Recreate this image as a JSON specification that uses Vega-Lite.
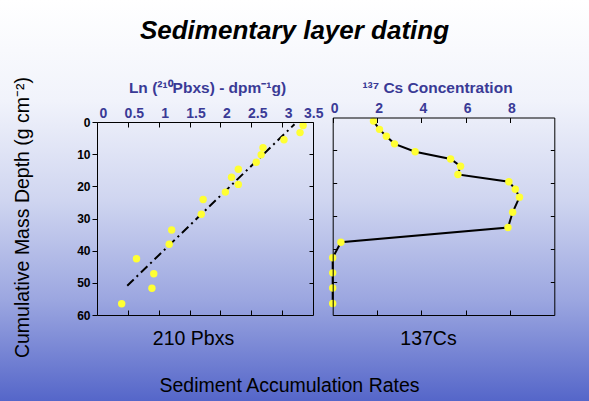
{
  "$schema": "https://vega.github.io/schema/vega-lite/v6.json",
  "width": 589,
  "height": 401,
  "autosize": "none",
  "padding": 0,
  "title": {
    "text": "Sedimentary layer dating",
    "font": "Liberation Sans",
    "fontSize": 26,
    "fontWeight": "bold",
    "fontStyle": "italic",
    "color": "#000000",
    "anchor": "middle",
    "frame": "group",
    "offset": -44
  },
  "config": {
    "font": "Liberation Sans",
    "view": {"stroke": null},
    "axis": {"grid": false, "domainColor": "#000000", "tickColor": "#000000", "domainWidth": 1, "tickWidth": 1}
  },
  "datasets": {
    "pb": [
      {"ln": 3.34, "depth": 1.1},
      {"ln": 3.29, "depth": 3.3},
      {"ln": 3.03, "depth": 5.5},
      {"ln": 2.69, "depth": 8.0},
      {"ln": 2.66, "depth": 10.2},
      {"ln": 2.58, "depth": 12.5},
      {"ln": 2.29, "depth": 14.7},
      {"ln": 2.18, "depth": 17.2},
      {"ln": 2.29, "depth": 19.4},
      {"ln": 2.08, "depth": 21.8},
      {"ln": 1.72, "depth": 24.1},
      {"ln": 1.69, "depth": 28.7},
      {"ln": 1.21, "depth": 33.6},
      {"ln": 1.17, "depth": 38.0},
      {"ln": 0.64, "depth": 42.5},
      {"ln": 0.92, "depth": 47.2},
      {"ln": 0.89, "depth": 51.7},
      {"ln": 0.40, "depth": 56.5}
    ],
    "pbfit": [
      {"ln": 0.49, "depth": 50.9},
      {"ln": 3.20, "depth": 0.7}
    ],
    "cs": [
      {"conc": 1.84, "depth": 1.1},
      {"conc": 2.11, "depth": 3.6},
      {"conc": 2.42, "depth": 5.7},
      {"conc": 2.79, "depth": 8.0},
      {"conc": 3.72, "depth": 10.4},
      {"conc": 5.32, "depth": 12.6},
      {"conc": 5.77, "depth": 14.8},
      {"conc": 5.65, "depth": 17.3},
      {"conc": 7.95, "depth": 19.5},
      {"conc": 8.24, "depth": 21.8},
      {"conc": 8.43, "depth": 24.2},
      {"conc": 8.12, "depth": 28.8},
      {"conc": 7.91, "depth": 33.4},
      {"conc": 0.37, "depth": 37.9},
      {"conc": 0.0, "depth": 42.6},
      {"conc": 0.0, "depth": 47.2},
      {"conc": 0.0, "depth": 51.8},
      {"conc": 0.0, "depth": 56.5}
    ]
  },
  "layer": [
    {
      "data": {"values": [{}]},
      "mark": {
        "type": "rect",
        "fill": {
          "gradient": "linear",
          "x1": 0, "y1": 0, "x2": 0, "y2": 1,
          "stops": [
            {"offset": 0, "color": "#ffffff"},
            {"offset": 0.25, "color": "#f1f3fb"},
            {"offset": 0.5, "color": "#cfd5f0"},
            {"offset": 0.75, "color": "#9ba6e0"},
            {"offset": 1, "color": "#5566c9"}
          ]
        }
      },
      "encoding": {}
    },
    {
      "data": {"name": "pb"},
      "encoding": {
        "x": {
          "field": "ln", "type": "quantitative",
          "scale": {"domain": [0, 3.5], "range": [97, 313], "nice": false, "zero": false},
          "axis": {
            "orient": "top", "offset": -122, "zindex": 1,
            "values": [0, 0.5, 1, 1.5, 2, 2.5, 3, 3.5], "format": "~g",
            "tickSize": -5, "labelPadding": 7, "labelOffset": 6,
            "labelFlush": true, "labelFlushOffset": 4,
            "labelFontSize": 14, "labelFontWeight": "bold", "labelColor": "#3a3a96",
            "title": "Ln (²¹⁰Pbxs) - dpm⁻¹g)",
            "titleFontSize": 15.5, "titleFontWeight": "bold", "titleColor": "#3a3a96",
            "titleX": 207, "titleY": -30, "titleBaseline": "alphabetic", "titleAnchor": "middle"
          }
        },
        "y": {
          "field": "depth", "type": "quantitative",
          "scale": {"domain": [0, 60], "range": [122, 315], "nice": false, "zero": false},
          "axis": {
            "orient": "left", "offset": -97, "zindex": 1,
            "values": [0, 10, 20, 30, 40, 50, 60], "format": "d",
            "tickSize": 5, "labelPadding": 2, "labelFlush": false,
            "labelFontSize": 12, "labelFontWeight": "bold", "labelColor": "#000000",
            "title": "Cumulative Mass Depth (g cm⁻²)",
            "titleFontSize": 19.5, "titleFontWeight": "normal", "titleColor": "#000000",
            "titleX": -69, "titleY": 217, "titleBaseline": "alphabetic", "titleAngle": 270
          }
        }
      },
      "layer": [
        {
          "data": {"name": "pbfit"},
          "mark": {"type": "line", "color": "#000000", "strokeWidth": 2, "strokeDash": [9, 4, 2, 4]}
        },
        {
          "mark": {"type": "circle", "size": 55, "color": "#ffff33", "opacity": 1}
        },
        {
          "data": {"values": [{"label": "A)"}]},
          "mark": {"type": "text", "fontSize": 26, "color": "#000000", "align": "center", "baseline": "middle"},
          "encoding": {
            "x": {"datum": 0.47},
            "y": {"datum": 16.8},
            "text": {"field": "label"}
          }
        },
        {
          "data": {"values": [{}]},
          "mark": {"type": "rule", "color": "#000000", "strokeWidth": 2},
          "encoding": {
            "x": {"datum": 0.42},
            "x2": {"datum": 0.46},
            "y": {"datum": 3.5}
          }
        }
      ]
    },
    {
      "data": {"values": [{}]},
      "mark": {"type": "rect", "fillOpacity": 0},
      "encoding": {
        "x": {
          "datum": 0, "type": "quantitative",
          "scale": {"domain": [0, 3.5], "range": [97, 313], "nice": false, "zero": false},
          "axis": {
            "orient": "bottom", "offset": -86, "zindex": 1,
            "values": [0.5, 1, 1.5, 2, 2.5, 3], "tickSize": -5, "labels": false,
            "title": "210 Pbxs",
            "titleFontSize": 19.5, "titleFontWeight": "normal", "titleColor": "#000000",
            "titleX": 193, "titleY": 29, "titleBaseline": "alphabetic"
          }
        },
        "x2": {"datum": 3.5},
        "y": {
          "datum": 0, "type": "quantitative",
          "scale": {"domain": [0, 60], "range": [122, 315], "nice": false, "zero": false},
          "axis": {
            "orient": "right", "offset": -276, "zindex": 1,
            "values": [10, 20, 30, 40, 50], "tickSize": -4, "labels": false, "title": null
          }
        },
        "y2": {"datum": 60}
      }
    },
    {
      "data": {"name": "cs"},
      "encoding": {
        "x": {
          "field": "conc", "type": "quantitative",
          "scale": {"domain": [0, 10], "range": [332.7, 554.3], "nice": false, "zero": false},
          "axis": {
            "orient": "top", "offset": -117.5, "zindex": 1,
            "values": [0, 2, 4, 6, 8], "format": "d",
            "tickSize": -5, "labelPadding": 7, "labelOffset": 1.5, "labelFlush": false,
            "labelFontSize": 14, "labelFontWeight": "bold", "labelColor": "#3a3a96",
            "title": "¹³⁷ Cs Concentration",
            "titleFontSize": 15.5, "titleFontWeight": "bold", "titleColor": "#3a3a96",
            "titleX": 437, "titleY": -25.5, "titleBaseline": "alphabetic", "titleAnchor": "middle"
          }
        },
        "y": {
          "field": "depth", "type": "quantitative",
          "scale": {"domain": [0, 60], "range": [117.5, 315], "nice": false, "zero": false},
          "axis": {
            "orient": "left", "offset": -332.7, "zindex": 1,
            "values": [10, 20, 30, 40, 50], "tickSize": -4, "labels": false,
            "title": "Sediment Accumulation Rates",
            "titleFontSize": 19.5, "titleFontWeight": "normal", "titleColor": "#000000",
            "titleAngle": 0, "titleX": -43.7, "titleY": 391, "titleBaseline": "alphabetic", "titleAlign": "center"
          }
        }
      },
      "layer": [
        {
          "mark": {"type": "line", "color": "#000000", "strokeWidth": 2},
          "encoding": {"order": {"field": "depth", "type": "quantitative"}}
        },
        {
          "mark": {"type": "circle", "size": 55, "color": "#ffff33", "opacity": 1}
        },
        {
          "data": {"values": [{"label": "B)"}]},
          "mark": {"type": "text", "fontSize": 26, "color": "#000000", "align": "center", "baseline": "middle"},
          "encoding": {
            "x": {"datum": 1.0},
            "y": {"datum": 17.5},
            "text": {"field": "label"}
          }
        }
      ]
    },
    {
      "data": {"values": [{}]},
      "mark": {"type": "rect", "fillOpacity": 0},
      "encoding": {
        "x": {
          "datum": 0, "type": "quantitative",
          "scale": {"domain": [0, 10], "range": [332.7, 554.3], "nice": false, "zero": false},
          "axis": {
            "orient": "bottom", "offset": -86, "zindex": 1,
            "values": [2, 4, 6, 8], "tickSize": -5, "labels": false,
            "title": "137Cs",
            "titleFontSize": 19.5, "titleFontWeight": "normal", "titleColor": "#000000",
            "titleX": 428, "titleY": 29, "titleBaseline": "alphabetic"
          }
        },
        "x2": {"datum": 10},
        "y": {
          "datum": 0, "type": "quantitative",
          "scale": {"domain": [0, 60], "range": [117.5, 315], "nice": false, "zero": false},
          "axis": {
            "orient": "right", "offset": -34.7, "zindex": 1,
            "values": [10, 20, 30, 40, 50], "tickSize": -4, "labels": false, "title": null
          }
        },
        "y2": {"datum": 60}
      }
    }
  ],
  "resolve": {
    "scale": {"x": "independent", "y": "independent"},
    "axis": {"x": "independent", "y": "independent"}
  }
}
